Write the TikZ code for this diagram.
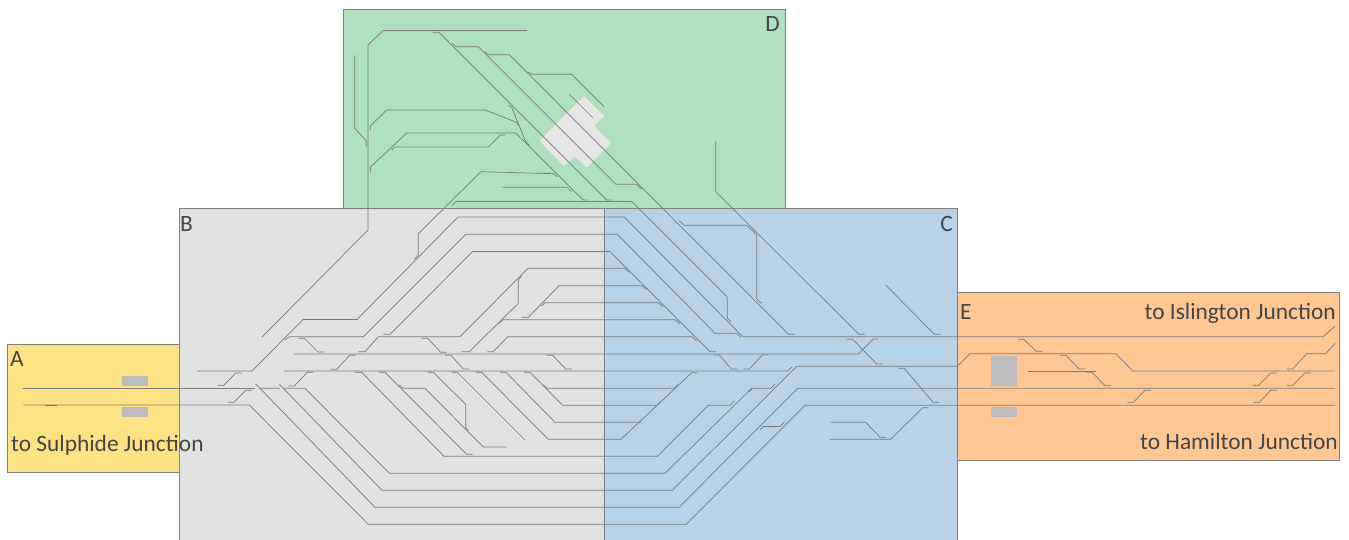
\documentclass[tikz,border=0pt]{standalone}
\usepackage{fontspec}
\setmainfont{Carlito}
\definecolor{areaA}{HTML}{FEE385}
\definecolor{areaB}{HTML}{E2E2E2}
\definecolor{areaC}{HTML}{B8D3E8}
\definecolor{areaD}{HTML}{B0E0BF}
\definecolor{areaE}{HTML}{FFC793}
\definecolor{hallgray}{HTML}{BDBDBD}
\definecolor{plantgray}{HTML}{E6E6E6}
\definecolor{trackgray}{HTML}{7A7A7A}
\definecolor{inkgray}{HTML}{454545}
\tikzset{
  areabox/.style={draw=black!50,line width=0.9pt},
  track/.style={draw=trackgray,line width=0.7pt,line join=miter},
  hall/.style={fill=hallgray},
  tag/.style={text=inkgray,font=\fontsize{23.4}{23.4}\selectfont,inner sep=0pt,anchor=base west}
}
\begin{document}
\begin{tikzpicture}[x=1pt,y=-1pt]
        \useasboundingbox (0,0) rectangle (1349,539);
        %% areas
        \path[areabox,fill=areaD] (343.3,9.7) rectangle (785.5,208.5);
        \path[areabox,fill=areaA] (7.5,344.7) rectangle (179.5,472);
        \path[areabox,fill=areaE] (957.5,292.5) rectangle (1339.7,460.2);
        \path[areabox,fill=areaB] (179.5,208.5) rectangle (604,545);
        \path[areabox,fill=areaC] (604,208.5) rectangle (957.5,545);
        %% halls
        \fill[hall] (122.3,376) rectangle (147.7,385.7);
        \fill[hall] (122.3,407.3) rectangle (147.7,417);
        \fill[hall] (991.3,356.3) rectangle (1017.3,385.7);
        \fill[hall] (991.3,407.3) rectangle (1017.3,417.3);
        \fill[plantgray] (584,96) -- (604,116) -- (594.3,126) -- (611,142.7) -- (586.7,167.7)
          -- (574.3,156) -- (564,166) -- (539.3,141) -- cycle;
        %% area D, upper yard
        \draw[track] (527,30.5) -- (383,30.5) -- (368,45) -- (368,230) -- (262,337);
        \draw[track] (354.7,55.3) -- (354.7,128.3) -- (366.3,140.7) -- (366.3,146.7);
        \draw[track] (370.3,130) -- (370.3,126) -- (386.7,110) -- (485,110) -- (516.7,122.3) -- (518,125.7);
        \draw[track] (370.3,172.7) -- (370.3,167.3) -- (406.7,133) -- (515.7,133) -- (583.3,200) -- (587.3,200);
        \draw[track] (391.7,150) -- (395,147) -- (488.3,147) -- (500.3,135) -- (505,135);
        \draw[track] (508.3,105) -- (511.7,107.3) -- (525,140) -- (529,145);
        \draw[track] (557.3,177) -- (554,173.7) -- (481,171.7) -- (418.3,233.7) -- (418.3,255) -- (414.3,259);
        \draw[track] (502.3,187.3) -- (567.3,187.3) -- (571.7,191.7);
        \draw[track] (451.7,205.7) -- (456,201.5) -- (631.7,201.5) -- (727.3,297.3) -- (727.3,318.3) -- (731,321.7);
        \draw[track] (432.3,32.3) -- (439,32.3) -- (606.7,200) -- (612.7,200);
        \draw[track] (452.3,43.3) -- (456,46.7) -- (478.3,46.7) -- (616,184.3) -- (636.7,184.3) -- (641.7,189);
        \draw[track] (485,51.7) -- (488.3,54.7) -- (509.3,54.7) -- (788.3,334.3) -- (795,334.3);
        \draw[track] (527.7,71.7) -- (531.7,74.3) -- (571.7,74.3) -- (604,106.7);
        \draw[track] (569.3,94.3) -- (592.7,117.7);
        \draw[track] (715.7,141) -- (715.7,191.7) -- (859,334.3) -- (865,334.3);
        \draw[track] (679.3,220.7) -- (684.3,225.3) -- (746.7,225.3) -- (756.7,235) -- (756.7,299) -- (761.7,303.3);
        \draw[track] (885.7,285) -- (934.3,334.3) -- (940.7,334.3);
        %% through roads
        \draw[track] (197,371) -- (252,371) -- (303,319.5) -- (357,319.5) -- (458,217) -- (624.3,217) -- (742.7,336.7)
          -- (1323.3,336.7) -- (1335,326);
        \draw[track] (285,340) -- (289.3,336.7) -- (363.3,336.7) -- (465.7,234.3) -- (617.3,234.3) -- (715,333.3)
          -- (736.7,333.3) -- (740.7,337.3);
        \draw[track] (383.3,334.3) -- (390,334.3) -- (472.7,251.5) -- (610,251.5) -- (710,351.7) -- (716,351.7);
        \draw[track] (358.3,351.7) -- (365,351.7) -- (378.3,336.7) -- (460,336.7) -- (528,268.3) -- (625,268.3) -- (629,272.3);
        \draw[track] (521.7,317.3) -- (528.3,317.3) -- (559,285.7) -- (641.7,285.7) -- (646.7,289.3);
        \draw[track] (541.7,306) -- (545,302.7) -- (658.3,302.7) -- (663,306.7);
        \draw[track] (499,323.3) -- (503.3,319.7) -- (675,319.7) -- (680,324);
        \draw[track] (487.3,351.7) -- (493.3,351.7) -- (507.7,336.7) -- (691.7,336.7) -- (696.7,340.7);
        \draw[track] (461.7,351.7) -- (469.3,351.7) -- (518.3,303.3) -- (518.3,280) -- (521.7,276);
        \draw[track] (294,354) -- (858.3,354) -- (873.3,339) -- (878.3,339);
        \draw[track] (284,371) -- (787.3,371) -- (792.3,366.7);
        \draw[track] (23.3,388.3) -- (255,388.3);
        \draw[track] (255.7,384) -- (260,388.3) -- (280,388.3);
        \draw[track] (260,388.3) -- (375,507.3) -- (679,507.3) -- (797.7,388.3) -- (1335,388.3);
        \draw[track] (279.3,384) -- (283.3,388.3) -- (305,388.3) -- (389.3,473.3) -- (665,473.3) -- (751.7,388.3)
          -- (770.7,388.3) -- (775,384);
        \draw[track] (283.3,388.3) -- (382,490.3) -- (672.3,490.3) -- (796.7,366.3) -- (957.3,366.3) -- (970,353.7)
          -- (1116,353.7) -- (1132.7,371) -- (1335,371);
        \draw[track] (23.3,405) -- (249.3,405) -- (368.3,524.3) -- (686.3,524.3) -- (805,405.3) -- (1335,405.3);
        \draw[track] (45,405) -- (56.7,405);
        %% branches under the long road
        \draw[track] (355,372.3) -- (361.7,372.3) -- (444,456.3) -- (657.7,456.3) -- (708.3,405.3) -- (730,405.3) -- (734.3,401);
        \draw[track] (379.3,372.3) -- (385,372.3) -- (466.7,454.3) -- (472.7,454.3);
        \draw[track] (399.3,385) -- (403.3,388.3) -- (425,388.3) -- (483.3,447) -- (506.7,447);
        \draw[track] (427.7,372.3) -- (433.3,372.3) -- (465.7,404.3) -- (465.7,427.3) -- (468.3,430.7);
        \draw[track] (451.7,372.3) -- (457.3,372.3) -- (525,440);
        \draw[track] (475.7,372.3) -- (481.7,372.3) -- (548.3,439.3) -- (621,439.3) -- (691.7,372.7) -- (697.3,372.7);
        \draw[track] (500,372.3) -- (506,372.3) -- (555,422.3) -- (641,422.3);
        \draw[track] (524,372.3) -- (530,372.3) -- (562.7,405.3) -- (656.7,405.3) -- (660.7,401);
        \draw[track] (543.3,385) -- (547.3,388.3) -- (674,388.3) -- (678.3,384);
        \draw[track] (749,391.7) -- (752.7,388.3);
        \draw[track] (760,430) -- (763.3,426.5) -- (780,426.5) -- (784.3,422.3);
        \draw[track] (830.7,422.3) -- (865.7,422.3) -- (880,437.3) -- (886,437.3);
        \draw[track] (830,439.3) -- (890.7,439.3) -- (922.7,407.7) -- (928.3,407.7);
        \draw[track] (1028.3,371) -- (1096,371);
        \draw[track] (1286.7,369) -- (1292.7,369) -- (1306.7,353.7) -- (1325.7,353.7) -- (1335,343.3);
        %% crossovers
        \foreach \xa/\ya/\xb/\yb in {
          217.7/385.3/241.7/373, 227.7/402.3/251.7/390.3, 288.3/386/313.3/372.3,
          298.3/338.3/324/352, 330.7/369.3/355.7/355.3, 421.7/338.3/446.7/352.3,
          445/355.3/469.3/369, 546.7/355.3/571.7/369, 713.3/355/737.3/369,
          743.3/369/768.3/355, 846.7/339.3/882.7/364, 898.3/368.3/939/402.3,
          1017.7/339.3/1042.3/351.3, 1060/355.3/1085/369, 1086/372.3/1111/385.7,
          1127.3/402.3/1151/390.3, 1252.7/385.3/1276.7/373, 1286.7/385.3/1310.7/373,
          1253.3/402.3/1276.7/390.3}
        {
          \draw[track] (\xa,\ya) -- ++(6,0) -- (\xb-6,\yb) -- (\xb,\yb);
        };
        %% labels
        \node[tag] (tagA) at (10,366.7) {A};
        \node[tag] (tagB) at (180,231) {B};
        \node[tag,anchor=base east] (tagC) at (953,231) {C};
        \node[tag,anchor=base east] (tagD) at (780,31.7) {D};
        \node[tag] (tagE) at (960,319) {E};
        \node[tag] (toSulphide) at (11,451) {to Sulphide Junction};
        \node[tag,anchor=base east] (toIslington) at (1336,319) {to Islington Junction};
        \node[tag,anchor=base east] (toHamilton) at (1338,449) {to Hamilton Junction};
\end{tikzpicture}
\end{document}
